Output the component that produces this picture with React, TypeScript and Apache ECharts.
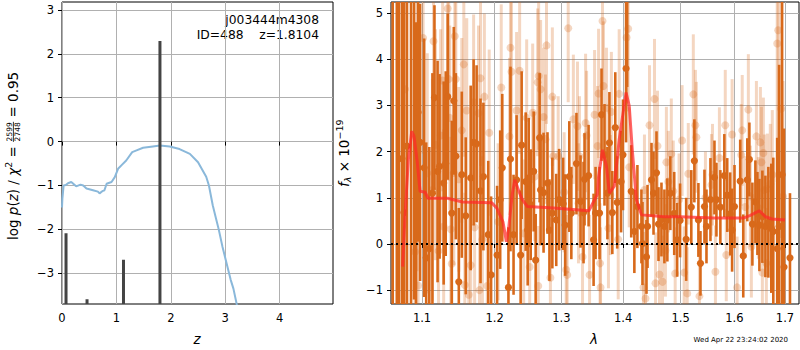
import React, { useEffect, useRef } from "react";
import * as echarts from "echarts";

// ---------- data ----------
const zTicks = [0, 1, 2, 3, 4];
const logpTicks = [-3, -2, -1, 0, 1, 2, 3];
const lamTicks = [1.1, 1.2, 1.3, 1.4, 1.5, 1.6, 1.7];
const fluxTicks = [-1, 0, 1, 2, 3, 4, 5];

const Z_MIN = 0, Z_MAX = 4.98;
const P_MIN = -3.7, P_MAX = 3.18;
const L_MIN = 1.0598, L_MAX = 1.7288;
const F_MIN = -1.3, F_MAX = 5.24;

// log p(z) curve [z, log p]
const pzCurve: number[][] = [
  [0.0, -1.5], [0.007, -1.3], [0.03, -1.0], [0.07, -0.99], [0.11, -0.95], [0.17, -0.92],
  [0.26, -1.02], [0.34, -0.98], [0.39, -1.0], [0.45, -1.07], [0.57, -1.11], [0.66, -1.14],
  [0.69, -1.18], [0.74, -1.13], [0.78, -1.11], [0.82, -0.96], [0.91, -0.92], [0.97, -0.81],
  [1.03, -0.62], [1.1, -0.53], [1.18, -0.43], [1.29, -0.24], [1.37, -0.2], [1.49, -0.14],
  [1.67, -0.11], [1.8, -0.09], [1.98, -0.11], [2.16, -0.17], [2.35, -0.28], [2.5, -0.47],
  [2.65, -0.8], [2.7, -1.0], [2.77, -1.45], [2.83, -1.75], [2.88, -2.0], [2.95, -2.4],
  [3.0, -2.65], [3.07, -3.0], [3.1, -3.15], [3.15, -3.35], [3.21, -3.7], [3.25, -3.9],
];
// spikes [z, top]
const pzSpikes: number[][] = [[0.074, -2.09], [0.46, -3.59], [1.13, -2.69], [1.8, 2.29]];

// spectrum points [lambda, flux, err]
const specDark: number[][] = [
  [1.062, -2.0, 7.5], [1.0672, 6.0, 8.0], [1.0699, -1.6, 7.5], [1.0738, 1.85, 6.0],
  [1.0764, 0.68, 5.5], [1.0803, 2.12, 5.0], [1.0856, -1.8, 7.5], [1.0895, 5.8, 7.0],
  [1.0921, -2.2, 7.0], [1.0948, 2.85, 2.8], [1.0974, 2.2, 3.0], [1.1028, 1.65, 2.8],
  [1.1055, -0.3, 2.5], [1.1096, -0.1, 2.2], [1.1138, 1.1, 2.6], [1.1165, 3.17, 2.0],
  [1.1207, 1.57, 2.4], [1.1234, 1.68, 2.0], [1.1289, 1.32, 2.2], [1.1317, 1.74, 2.0],
  [1.1344, 3.19, 1.8], [1.1399, 0.67, 2.0], [1.1427, 3.1, 1.6], [1.1455, 1.9, 1.8],
  [1.1496, -0.82, 1.6], [1.1537, 1.5, 1.8], [1.1592, 0.61, 1.7], [1.1661, 1.43, 2.0],
  [1.1702, 2.2, 1.8], [1.1744, 2.17, 1.7], [1.1799, 1.15, 2.0], [1.184, 1.46, 1.6],
  [1.1909, 0.2, 1.6], [1.195, -0.67, 1.7], [1.2036, -0.24, 1.5], [1.2081, 0.96, 1.5],
  [1.2111, 1.65, 1.6], [1.2201, -0.94, 1.3], [1.2231, 1.84, 2.0], [1.2276, 0.2, 1.3],
  [1.2321, 1.39, 1.4], [1.2381, -0.24, 1.4], [1.2396, 2.14, 1.6], [1.2456, 1.35, 1.5],
  [1.2486, 0.3, 1.2], [1.2501, 1.33, 1.4], [1.2531, 0.85, 1.2], [1.2576, 1.57, 1.3],
  [1.2606, -0.35, 1.0], [1.2666, 2.3, 1.4], [1.2681, 1.17, 1.2], [1.2726, 1.11, 1.3],
  [1.2786, 1.32, 1.1], [1.2816, 0.3, 1.1], [1.2861, 0.67, 1.2], [1.2921, 0.52, 1.0],
  [1.2966, 0.96, 1.1], [1.3028, 0.87, 1.0], [1.306, 0.41, 1.1], [1.3125, 1.46, 1.2],
  [1.3157, 0.67, 1.0], [1.3238, 1.74, 1.1], [1.3303, 0.92, 1.0], [1.3351, 0.68, 1.1],
  [1.3367, 1.4, 1.0], [1.3432, 1.48, 1.1], [1.3513, 0.09, 1.0], [1.3545, 0.67, 1.0],
  [1.361, 0.67, 1.0], [1.3642, 2.8, 1.0], [1.3691, 1.93, 1.1], [1.3739, 1.1, 1.0],
  [1.3772, 2.19, 1.1], [1.382, 0.68, 0.9], [1.3869, 2.52, 1.2], [1.3901, 0.9, 1.0],
  [1.3966, 1.35, 1.1], [1.3998, 1.93, 1.2], [1.405, 3.8, 1.6], [1.4068, 5.4, 2.0],
  [1.4137, 1.14, 1.0], [1.419, 0.27, 0.9], [1.4242, 0.81, 0.9], [1.4311, 0.38, 0.8],
  [1.4329, 0.01, 0.9], [1.4398, -0.28, 0.8], [1.4416, 0.38, 0.9], [1.4485, 1.39, 0.8],
  [1.452, 1.1, 0.9], [1.4572, 1.54, 0.9], [1.4607, 0.43, 0.8], [1.4659, 0.53, 0.8],
  [1.4711, 0.38, 0.8], [1.4763, 0.52, 0.9], [1.4816, 1.1, 0.8], [1.4885, 0.66, 0.9],
  [1.4937, 0.09, 0.8], [1.499, 0.51, 0.8], [1.51, 0.1, 0.9], [1.5193, 0.8, 0.8],
  [1.5249, 1.8, 0.9], [1.5323, 0.52, 0.8], [1.5361, -0.42, 0.7], [1.5435, 0.81, 0.8],
  [1.5472, 0.38, 0.8], [1.5546, 0.96, 0.9], [1.5621, 1.44, 0.8], [1.5658, 0.96, 0.8],
  [1.5732, 0.8, 0.8], [1.5807, 1.48, 0.9], [1.5862, 1.06, 0.8], [1.5918, 0.65, 0.9],
  [1.5955, 0.3, 0.9], [1.6001, 0.81, 0.9], [1.6111, 1.36, 0.9], [1.617, -0.26, 0.9],
  [1.6249, 1.39, 0.9], [1.6289, 1.83, 0.8], [1.6348, 0.43, 0.9], [1.6407, 0.91, 0.9],
  [1.6447, 0.66, 0.9], [1.6486, 0.41, 1.0], [1.6545, 0.59, 1.0], [1.6605, 0.38, 1.1],
  [1.6664, 0.47, 1.2], [1.6723, 0.34, 1.4], [1.6763, 0.27, 1.6], [1.6842, -0.1, 2.4],
  [1.6881, 0.38, 3.5], [1.6941, 1.5, 4.0], [1.698, -0.5, 3.0], [1.7102, -0.3, 1.4],
];

const specLight: number[][] = [
  [1.0777, 3.35, 5.0], [1.0908, -0.17, 3.5], [1.0934, 2.91, 3.5], [1.0948, -0.9, 3.0],
  [1.1014, 4.46, 2.5], [1.1069, 1.53, 2.6], [1.1138, 1.17, 2.4], [1.1152, 4.39, 2.2],
  [1.1179, 2.15, 2.5], [1.122, -0.15, 2.3], [1.1248, 2.35, 2.3], [1.1275, 3.54, 2.4],
  [1.1289, 0.38, 2.1], [1.1344, 5.1, 2.0], [1.1358, 3.57, 2.2], [1.1372, 2.73, 2.0],
  [1.1386, 0.32, 2.0], [1.1399, -0.43, 2.0], [1.1427, 1.54, 2.0], [1.1441, 4.5, 2.0],
  [1.1455, 3.57, 2.1], [1.1496, 1.4, 2.0], [1.1537, 2.46, 2.0], [1.1565, 3.89, 2.0],
  [1.1579, -0.89, 2.0], [1.1606, 2.89, 2.0], [1.1634, -1.1, 2.0], [1.1661, -0.46, 2.0],
  [1.1702, 3.07, 1.9], [1.1716, 0.36, 1.9], [1.1771, 2.83, 1.9], [1.1785, -1.0, 1.9],
  [1.1799, 3.59, 1.9], [1.1826, 0.1, 1.8], [1.1854, 3.19, 1.8], [1.1895, -0.91, 1.8],
  [1.1923, 2.41, 1.8], [1.2051, 0.48, 1.7], [1.2096, 3.39, 1.8], [1.2216, 2.33, 1.7],
  [1.2231, 4.25, 1.8], [1.2246, 3.73, 1.7], [1.2321, 2.89, 1.7], [1.2366, 3.75, 1.8],
  [1.2426, 0.23, 1.6], [1.2471, 2.73, 1.7], [1.2516, -0.5, 1.3], [1.2561, 2.84, 1.5],
  [1.2591, 1.46, 1.4], [1.2636, 3.5, 1.6], [1.2645, -0.91, 1.3], [1.2651, 3.64, 1.6],
  [1.2681, 3.35, 1.5], [1.2726, 2.75, 1.5], [1.2756, 2.27, 1.4], [1.2771, 4.3, 1.7],
  [1.2831, -0.73, 1.3], [1.2861, 3.19, 1.5], [1.2876, 1.9, 1.3], [1.2951, 1.9, 1.3],
  [1.3044, 1.12, 1.3], [1.3076, -0.56, 1.3], [1.3092, -0.67, 1.3], [1.3108, 4.67, 1.6],
  [1.3189, 2.7, 1.4], [1.3254, 2.55, 1.4], [1.327, 0.88, 1.3], [1.3286, 1.9, 1.3],
  [1.3335, -0.28, 1.3], [1.3384, 2.62, 1.5], [1.34, 2.35, 1.4], [1.3448, -0.67, 1.3],
  [1.3529, 2.8, 1.4], [1.3577, 2.12, 1.3], [1.3594, 3.26, 1.4], [1.3618, -0.42, 1.3],
  [1.3626, -0.94, 1.3], [1.3658, 4.83, 1.5], [1.3675, 3.42, 1.4], [1.3723, 2.95, 1.3],
  [1.3756, 0.34, 1.3], [1.3788, 1.06, 1.3], [1.3804, 2.86, 1.3], [1.3918, 0.1, 1.3],
  [1.3934, 3.25, 1.4], [1.4059, 4.47, 1.6], [1.4085, 4.66, 1.6], [1.4103, 1.66, 1.3],
  [1.4346, -0.94, 1.2], [1.4363, 1.17, 1.2], [1.4381, -1.18, 1.2], [1.445, 2.57, 1.3],
  [1.4537, 3.14, 1.3], [1.4555, -0.85, 1.1], [1.4589, 2.12, 1.2], [1.4624, -0.66, 1.1],
  [1.4677, -0.82, 1.0], [1.4729, -0.14, 1.0], [1.4746, 1.77, 1.2], [1.4781, 1.35, 1.1],
  [1.4833, 1.95, 1.2], [1.4868, 1.14, 1.1], [1.4902, -0.64, 1.0], [1.4972, 0.96, 1.0],
  [1.5026, 2.24, 1.2], [1.5063, -0.62, 1.0], [1.5119, -1.07, 1.0], [1.5138, 1.52, 1.1],
  [1.523, 3.24, 1.3], [1.5268, 2.57, 1.2], [1.5286, 2.31, 1.2], [1.5342, -1.13, 1.0],
  [1.5453, 1.0, 1.0], [1.5565, 1.28, 1.1], [1.5584, 1.5, 1.1], [1.5639, -0.6, 1.0],
  [1.5714, 1.86, 1.1], [1.5825, 2.57, 1.2], [1.5844, -0.24, 1.0], [1.5955, 2.37, 1.2],
  [1.6051, -0.94, 1.1], [1.613, 1.93, 1.1], [1.615, 2.46, 1.2], [1.6209, 0.8, 1.1],
  [1.6269, 2.91, 1.2], [1.6308, 1.03, 1.1], [1.6328, -0.06, 1.1], [1.6427, 2.33, 1.2],
  [1.6466, 0.78, 1.1], [1.6506, 2.2, 1.2], [1.6526, 1.77, 1.2], [1.6545, -0.62, 1.1],
  [1.6565, 1.97, 1.2], [1.6585, 1.17, 1.2], [1.6624, -0.42, 1.2], [1.6644, 1.19, 1.2],
  [1.6703, 1.3, 1.3], [1.6743, 1.5, 1.4], [1.6842, 4.34, 3.0], [1.6862, 4.63, 3.0],
  [1.6921, 2.93, 2.8], [1.696, 1.03, 2.5],
];

// best-fit model [lambda, flux]
const modelLine: number[][] = [
  [1.0747, -0.49], [1.0777, 0.59], [1.0821, 1.83], [1.0865, 2.44], [1.0895, 2.33],
  [1.0938, 1.76], [1.0974, 1.14], [1.1041, 1.12], [1.1079, 0.99], [1.134, 0.99],
  [1.1547, 0.91], [1.196, 0.89], [1.2031, 0.78], [1.2121, 0.48], [1.2171, 0.05],
  [1.2205, 0.35], [1.2256, 1.07], [1.2295, 1.39], [1.2355, 1.14], [1.2406, 0.96],
  [1.2481, 0.81], [1.288, 0.78], [1.3437, 0.72], [1.3573, 1.07], [1.3594, 1.46],
  [1.3658, 2.04], [1.3723, 1.68], [1.3772, 1.1], [1.3853, 1.25], [1.3934, 2.26],
  [1.405, 3.28], [1.4103, 2.99], [1.4155, 2.04], [1.4224, 0.96], [1.4311, 0.63],
  [1.4711, 0.59], [1.499, 0.59], [1.5602, 0.56], [1.617, 0.56], [1.6308, 0.62],
  [1.6486, 0.72], [1.6605, 0.59], [1.6738, 0.54], [1.7, 0.52],
];

const titleLines = ["j003444m4308", "ID=488    z=1.8104"];
const timestamp = "Wed Apr 22 23:24:02 2020";

// ---------- helpers ----------
const FONT = '"DejaVu Sans"';
let ctx: CanvasRenderingContext2D | null = null;
function measure(text: string, font: string): number {
  if (!ctx) ctx = document.createElement("canvas").getContext("2d");
  if (!ctx) return text.length * 7;
  ctx.font = font;
  return ctx.measureText(text).width;
}

type Piece = { t?: string; size: number; italic?: boolean; dy?: number; frac?: [string, string] };
function rotatedLabel(cx: number, cy: number, pieces: Piece[]) {
  let x = 0;
  const children: any[] = [];
  for (const p of pieces) {
    const font = `${p.italic ? "italic " : ""}${p.size}px ${FONT}`;
    if (p.frac) {
      const w = Math.max(measure(p.frac[0], font), measure(p.frac[1], font)) + 1;
      children.push({ type: "text", x: x + w / 2, y: -3.8, style: { text: p.frac[0], font, fill: "#000", textAlign: "center", textVerticalAlign: "middle" } });
      children.push({ type: "text", x: x + w / 2, y: 4.6, style: { text: p.frac[1], font, fill: "#000", textAlign: "center", textVerticalAlign: "middle" } });
      children.push({ type: "line", shape: { x1: x, y1: 0.4, x2: x + w, y2: 0.4 }, style: { stroke: "#000", lineWidth: 0.8 } });
      x += w;
    } else {
      children.push({ type: "text", x, y: p.dy || 0, style: { text: p.t, font, fill: "#000", textAlign: "left", textVerticalAlign: "middle" } });
      x += measure(p.t || "", font);
    }
  }
  return { type: "group", x: cx, y: cy, rotation: Math.PI / 2, children };
}

const DARK = "#d8691a";
const LIGHT = "rgba(216,105,26,0.27)";

function errRender(color: string, r: number, lw: number) {
  return (_params: any, api: any) => {
    const x = api.value(0), y = api.value(1), e = api.value(2);
    const lo = Math.max(y - e, F_MIN), hi = Math.min(y + e, F_MAX);
    const children: any[] = [];
    if (hi > lo) {
      const p1 = api.coord([x, hi]);
      const p2 = api.coord([x, lo]);
      children.push({ type: "line", shape: { x1: p1[0], y1: p1[1], x2: p2[0], y2: p2[1] }, style: { stroke: color, lineWidth: lw } });
    }
    if (y >= F_MIN && y <= F_MAX) {
      const c = api.coord([x, y]);
      children.push({ type: "circle", shape: { cx: c[0], cy: c[1], r }, style: { fill: color } });
    }
    return { type: "group", children };
  };
}

const minus = (v: number | string) => String(v).replace("-", "\u2212");

export default function App() {
  const ref = useRef<HTMLDivElement>(null);
  useEffect(() => {
    if (!ref.current) return;
    const chart = echarts.init(ref.current, undefined, { renderer: "svg" });
    const axisLabelBase = { color: "#000", fontSize: 11.5, fontFamily: FONT, margin: 8 };
    const gridLine = { show: true, lineStyle: { color: "#b0b0b0", width: 1 } };
    const tick = (vals: number[]) => ({ show: true, inside: false, length: 4, lineStyle: { color: "#000" }, customValues: vals });

    const option: any = {
      animation: false,
      grid: [
        { left: 62, top: 2, width: 271, height: 302, show: true, borderColor: "#000", borderWidth: 1, backgroundColor: "transparent" },
        { left: 391, top: 2, width: 408, height: 302, show: true, borderColor: "#000", borderWidth: 1, backgroundColor: "transparent" },
      ],
      xAxis: [
        {
          type: "value", gridIndex: 0, min: Z_MIN, max: Z_MAX,
          axisLine: { show: false }, axisTick: tick(zTicks), splitLine: gridLine,
          axisLabel: { ...axisLabelBase, customValues: zTicks, formatter: (v: number) => minus(Math.round(v)) },
        },
        {
          type: "log", logBase: 10, gridIndex: 1, min: L_MIN, max: L_MAX,
          axisLine: { show: false }, axisTick: tick(lamTicks), splitLine: gridLine, minorSplitLine: { show: false },
          axisLabel: { ...axisLabelBase, customValues: lamTicks, formatter: (v: number) => v.toFixed(1) },
        },
      ],
      yAxis: [
        {
          type: "value", gridIndex: 0, min: P_MIN, max: P_MAX,
          axisLine: { show: false }, axisTick: tick(logpTicks), splitLine: gridLine,
          axisLabel: { ...axisLabelBase, customValues: logpTicks, formatter: (v: number) => minus(Math.round(v)) },
        },
        {
          type: "value", gridIndex: 1, min: F_MIN, max: F_MAX,
          axisLine: { show: false }, axisTick: tick(fluxTicks), splitLine: gridLine,
          axisLabel: { ...axisLabelBase, customValues: fluxTicks, formatter: (v: number) => minus(Math.round(v)) },
        },
      ],
      series: [
        {
          type: "line", xAxisIndex: 0, yAxisIndex: 0, data: pzCurve, showSymbol: false, symbol: "none",
          lineStyle: { color: "#8ab8da", width: 2 }, clip: true, z: 3,
        },
        ...pzSpikes.map(([z, v]) => ({
          type: "line", xAxisIndex: 0, yAxisIndex: 0, data: [[z, P_MIN], [z, v]], showSymbol: false, symbol: "none",
          lineStyle: { color: "#444444", width: 3 }, clip: true, z: 4,
        })),
        {
          type: "custom", xAxisIndex: 1, yAxisIndex: 1, data: specLight, renderItem: errRender(LIGHT, 4, 3), clip: true, z: 2,
        },
        {
          type: "custom", xAxisIndex: 1, yAxisIndex: 1, data: specDark, renderItem: errRender(DARK, 3.6, 2.6), clip: true, z: 3,
        },
        {
          type: "line", xAxisIndex: 1, yAxisIndex: 1, data: modelLine, showSymbol: false, symbol: "none",
          lineStyle: { color: "rgba(255,40,40,0.72)", width: 3 }, clip: true, z: 5,
          markLine: {
            silent: true, symbol: "none", label: { show: false },
            lineStyle: { color: "#000", type: [2, 3], width: 2 },
            data: [{ yAxis: 0 }],
          },
        },
      ],
      graphic: [
        { type: "text", x: 319, y: 20, style: { text: titleLines[0], font: `12.3px ${FONT}`, fill: "#000", textAlign: "right", textVerticalAlign: "middle" } },
        { type: "text", x: 319, y: 35, style: { text: titleLines[1], font: `12.3px ${FONT}`, fill: "#000", textAlign: "right", textVerticalAlign: "middle" } },
        { type: "text", x: 197, y: 339, style: { text: "z", font: `italic 13.5px ${FONT}`, fill: "#000", textAlign: "center", textVerticalAlign: "middle" } },
        { type: "text", x: 594, y: 339, style: { text: "\u03bb", font: `italic 13.5px ${FONT}`, fill: "#000", textAlign: "center", textVerticalAlign: "middle" } },
        { type: "text", x: 788, y: 340, style: { text: timestamp, font: `7px ${FONT}`, fill: "#000", textAlign: "right", textVerticalAlign: "middle" } },
        rotatedLabel(13, 240, [
          { t: "log ", size: 13.5 },
          { t: "p", size: 13.5, italic: true },
          { t: "(", size: 13.5 },
          { t: "z", size: 13.5, italic: true },
          { t: ") / ", size: 13.5 },
          { t: "\u03c7", size: 13.5, italic: true },
          { t: "2", size: 9.5, dy: -5 },
          { t: " = ", size: 13.5 },
          { frac: ["2599", "2748"], size: 7.5 },
          { t: " = 0.95", size: 13.5 },
        ]),
        rotatedLabel(344, 187, [
          { t: "f", size: 13.5, italic: true },
          { t: "\u03bb", size: 9.5, italic: true, dy: 3 },
          { t: " \u00d7 10", size: 13.5 },
          { t: "\u221219", size: 9.5, dy: -5 },
        ]),
      ],
    };
    chart.setOption(option);
    return () => chart.dispose();
  }, []);
  return <div ref={ref} style={{ position: "fixed", left: 0, top: 0, width: 800, height: 350, background: "#fff" }} />;
}
